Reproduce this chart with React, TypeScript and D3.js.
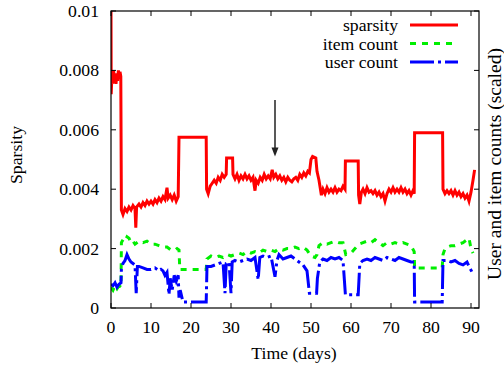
import * as d3 from 'd3'

// values in units of 1e-3, [day, value]
const sparsity: [number, number][] = [
  [0, 10.0], [0.05, 7.2], [0.25, 7.9], [0.45, 7.55], [0.65, 8.0], [0.85, 7.65], [1.05, 7.9],
  [1.25, 7.55], [1.45, 7.85], [1.65, 7.65], [1.85, 8.0], [2.05, 7.75], [2.25, 7.95], [2.45, 7.8],
  [2.6, 3.3], [3.0, 3.15], [3.5, 3.35], [4.0, 3.25], [4.5, 3.4], [5.0, 3.3], [5.5, 3.45],
  [6.0, 3.35], [6.2, 2.7], [6.4, 3.4], [7.0, 3.5], [7.5, 3.4], [8.0, 3.55], [8.5, 3.45],
  [9.0, 3.6], [9.5, 3.5], [10.0, 3.6], [10.5, 3.5], [11.0, 3.65], [11.5, 3.55], [12.0, 3.7],
  [12.5, 3.6], [13.0, 3.75], [13.5, 3.65], [14.0, 4.05], [14.3, 3.7], [14.8, 3.8], [15.3, 3.65],
  [15.8, 3.8], [16.3, 3.6], [16.8, 3.75], [17.0, 5.75], [23.8, 5.75], [23.9, 4.0], [24.3, 3.85],
  [24.8, 4.1], [25.3, 4.2], [25.8, 4.3], [26.3, 4.2], [26.8, 4.4], [27.3, 4.3], [27.8, 4.5],
  [28.3, 4.4], [28.8, 4.5], [28.9, 5.05], [30.4, 5.05], [30.5, 4.5], [31.0, 4.35], [31.5, 4.5],
  [32.0, 4.3], [32.5, 4.45], [33.0, 4.35], [33.5, 4.5], [34.0, 4.35], [34.5, 4.45], [35.0, 4.3],
  [35.5, 4.4], [36.0, 3.95], [36.3, 4.3], [36.8, 4.2], [37.3, 4.4], [37.8, 4.3], [38.3, 4.5],
  [38.8, 4.35], [39.3, 4.45], [39.8, 4.35], [40.3, 4.65], [40.7, 4.4], [41.2, 4.5], [41.7, 4.35],
  [42.2, 4.45], [42.7, 4.3], [43.2, 4.4], [43.7, 4.25], [44.2, 4.4], [44.7, 4.3], [45.2, 4.25],
  [45.7, 4.35], [46.2, 4.4], [46.7, 4.3], [47.2, 4.5], [47.7, 4.4], [48.2, 4.55], [48.7, 4.45],
  [49.2, 4.6], [49.6, 4.55], [50.0, 5.0], [50.4, 5.1], [51.2, 5.05], [51.5, 4.6], [52.0, 4.3],
  [52.6, 3.8], [53.0, 4.0], [53.5, 3.85], [54.0, 4.05], [54.5, 3.9], [55.0, 4.0], [55.5, 3.9],
  [56.0, 4.05], [56.5, 3.9], [57.0, 4.0], [57.5, 3.95], [58.0, 4.1], [58.5, 4.0], [58.6, 4.95],
  [61.8, 4.95], [61.9, 3.8], [62.2, 3.5], [62.6, 3.9], [63.0, 4.0], [63.5, 3.85], [64.0, 4.05],
  [64.5, 3.9], [65.0, 3.95], [65.5, 3.85], [66.0, 3.95], [66.5, 3.8], [67.0, 3.9], [67.5, 3.75],
  [68.0, 3.85], [68.5, 3.6], [69.0, 3.85], [69.5, 4.0], [70.0, 3.9], [70.5, 4.05], [71.0, 3.9],
  [71.5, 4.0], [72.0, 3.9], [72.5, 4.05], [73.0, 3.9], [73.5, 4.0], [74.0, 3.85], [74.5, 3.95],
  [75.0, 3.8], [75.5, 3.95], [75.8, 3.85], [75.9, 5.9], [82.9, 5.9], [83.0, 4.0], [83.5, 3.85],
  [84.0, 3.95], [84.5, 3.85], [85.0, 3.95], [85.5, 3.8], [86.0, 3.95], [86.5, 3.8], [87.0, 3.9],
  [87.5, 3.75], [88.0, 3.85], [88.5, 3.7], [89.0, 3.8], [89.5, 3.6], [90.0, 3.9], [90.5, 4.3],
  [90.9, 4.65],
]

const itemCount: [number, number][] = [
  [0, 0.7], [0.5, 0.6], [1, 0.75], [1.5, 0.65], [2, 0.75], [2.5, 0.7], [2.6, 2.2], [3, 2.3],
  [3.5, 2.25], [4, 2.4], [4.5, 2.35], [5, 2.2], [5.5, 2.25], [6, 2.15], [7, 2.25], [8, 2.2],
  [9, 2.25], [10, 2.15], [11, 2.15], [12, 2.1], [13, 2.05], [14, 2.05], [15, 1.95], [16, 1.95],
  [16.5, 2.0], [17, 1.95], [17.2, 1.3], [23.8, 1.3], [24, 1.65], [25, 1.75], [26, 1.7],
  [27, 1.75], [28, 1.7], [29, 1.8], [30, 1.75], [31, 1.8], [32, 1.85], [33, 1.8], [34, 1.9],
  [35, 1.85], [36, 1.9], [37, 1.85], [38, 1.95], [39, 1.9], [40, 1.95], [41, 1.9], [42, 2.0],
  [43, 1.95], [44, 2.0], [45, 2.0], [46, 2.05], [47, 2.0], [48, 2.05], [49, 1.95], [50, 1.75],
  [51, 1.7], [51.5, 1.8], [52, 2.1], [53, 2.2], [54, 2.15], [55, 2.2], [56, 2.25], [57, 2.2],
  [58, 2.2], [58.7, 1.8], [60, 1.85], [61, 2.0], [62, 2.15], [63, 2.2], [64, 2.25], [65, 2.2],
  [66, 2.3], [67, 2.2], [68, 2.1], [69, 2.2], [70, 2.15], [71, 2.2], [72, 2.15], [73, 2.2],
  [74, 2.15], [75, 2.1], [75.8, 1.9], [75.9, 1.35], [82.8, 1.35], [83, 1.8], [83.5, 2.0],
  [84, 2.05], [85, 2.1], [86, 2.1], [87, 2.15], [88, 2.2], [89, 2.3], [89.5, 2.35], [90, 2.0],
  [90.5, 1.85],
]

const userCount: [number, number][] = [
  [0, 0.8], [0.5, 0.75], [1, 0.85], [1.5, 0.7], [2, 0.8], [2.5, 0.85], [2.6, 1.3], [3, 1.5],
  [3.5, 1.6], [4, 1.8], [4.5, 1.65], [5, 1.55], [5.5, 1.5], [6, 1.45], [6.3, 0.5], [6.6, 1.4],
  [7, 1.4], [8, 1.35], [9, 1.3], [10, 1.3], [11, 1.35], [12, 1.25], [12.5, 1.3], [13, 1.25],
  [13.5, 1.1], [14, 1.2], [14.5, 0.45], [14.8, 1.0], [15.3, 0.6], [15.8, 1.1], [16.3, 0.9],
  [16.8, 1.1], [17, 0.35], [17.3, 0.6], [18, 0.2], [23.8, 0.2], [24, 1.4], [25, 1.4],
  [26, 1.45], [27, 1.5], [28, 1.55], [28.5, 0.5], [28.8, 1.5], [29.5, 1.55], [30, 0.5],
  [30.3, 1.55], [31, 1.6], [32, 1.55], [33, 1.6], [34, 1.65], [35, 1.6], [36, 1.7], [36.8, 0.95],
  [37.2, 1.7], [38, 1.75], [39, 1.7], [40, 1.75], [41, 1.05], [41.5, 1.6], [42, 1.8], [43, 1.65],
  [44, 1.7], [45, 1.75], [46, 1.65], [47, 1.55], [48, 1.45], [49, 1.25], [49.6, 0.5], [51.4, 0.5],
  [51.6, 1.0], [52.2, 1.55], [53, 1.65], [54, 1.6], [55, 1.7], [56, 1.65], [57, 1.7], [58, 1.6],
  [58.6, 0.45], [61.8, 0.45], [62.2, 1.5], [63, 1.6], [64, 1.65], [65, 1.6], [66, 1.7],
  [67, 1.65], [68, 1.6], [69, 1.7], [70, 1.65], [71, 1.6], [72, 1.7], [73, 1.65], [74, 1.6],
  [75, 1.55], [75.8, 1.55], [75.9, 0.2], [82.8, 0.2], [83, 1.6], [84, 1.6], [85, 1.55],
  [86, 1.6], [87, 1.5], [88, 1.45], [89, 1.55], [89.5, 1.4], [90.5, 1.15],
]

const xTicks = [0, 10, 20, 30, 40, 50, 60, 70, 80, 90]
const yTicks = [0, 2, 4, 6, 8, 10]
const yTickLabels = ['0', '0.002', '0.004', '0.006', '0.008', '0.01']

const series = [
  { name: 'sparsity', data: sparsity, color: '#ff0000', dash: '' },
  { name: 'item count', data: itemCount, color: '#00ee00', dash: '6,6' },
  { name: 'user count', data: userCount, color: '#0000ff', dash: '24,4,3,4' },
]

// arrow marking day 41
const arrow = { day: 41, from: 7.0, to: 5.1 }

const W = 504
const H = 367
const left = 111
const right = 479
const top = 11
const bottom = 308
const fs = 17.7

export default function App() {
  const x = d3.scaleLinear().domain([0, 92]).range([left, right])
  const y = d3.scaleLinear().domain([0, 10]).range([bottom, top])
  const line = d3
    .line<[number, number]>()
    .x((d) => x(d[0]))
    .y((d) => y(d[1]))

  const ax = x(arrow.day)
  const ay0 = y(arrow.from)
  const ay1 = y(arrow.to)

  return (
    <svg width={W} height={H} style={{ position: 'absolute', left: 0, top: 0, background: '#fff' }}>
      <defs>
        <clipPath id="plot">
          <rect x={left} y={top} width={right - left} height={bottom - top} />
        </clipPath>
      </defs>

      {/* series */}
      <g clipPath="url(#plot)">
        {series.map((s) => (
          <path
            key={s.name}
            d={line(s.data) || ''}
            fill="none"
            stroke={s.color}
            strokeWidth={3}
            strokeDasharray={s.dash || undefined}
            strokeLinejoin="miter"
          />
        ))}
      </g>

      {/* frame */}
      <rect x={left} y={top} width={right - left} height={bottom - top} fill="none" stroke="#000" strokeWidth={1.2} />

      <g fontFamily="Liberation Serif" fontSize={fs} fill="#000">
        {/* x ticks */}
        {xTicks.map((t) => (
          <g key={'x' + t}>
            <line x1={x(t)} x2={x(t)} y1={bottom} y2={bottom - 5} stroke="#000" />
            <line x1={x(t)} x2={x(t)} y1={top} y2={top + 5} stroke="#000" />
            <text x={x(t)} y={bottom + 25} textAnchor="middle">
              {t}
            </text>
          </g>
        ))}

        {/* y ticks */}
        {yTicks.map((t, i) => (
          <g key={'y' + t}>
            <line x1={left} x2={left + 5} y1={y(t)} y2={y(t)} stroke="#000" />
            <line x1={right} x2={right - 5} y1={y(t)} y2={y(t)} stroke="#000" />
            <text x={99} y={y(t) + 6} textAnchor="end">
              {yTickLabels[i]}
            </text>
          </g>
        ))}

        {/* legend */}
        {series.map((s, i) => (
          <g key={'lg' + s.name}>
            <text x={398} y={31 + i * 18.5} textAnchor="end">
              {s.name}
            </text>
            <line
              x1={410}
              x2={458}
              y1={25 + i * 18.5}
              y2={25 + i * 18.5}
              stroke={s.color}
              strokeWidth={3}
              strokeDasharray={s.dash || undefined}
            />
          </g>
        ))}

        {/* axis labels */}
        <text x={294} y={359} textAnchor="middle">
          Time (days)
        </text>
        <text transform="translate(16,155) rotate(-90)" textAnchor="middle" dy="0.35em">
          Sparsity
        </text>
        <text transform="translate(494,164) rotate(-90)" textAnchor="middle" dy="0.35em" fontSize={19.5}>
          User and item counts (scaled)
        </text>
      </g>

      {/* arrow */}
      <line x1={ax} x2={ax} y1={ay0} y2={ay1 - 6} stroke="#222" strokeWidth={1.5} />
      <path d={`M${ax - 3.5},${ay1 - 9} L${ax + 3.5},${ay1 - 9} L${ax},${ay1} Z`} fill="#222" />
    </svg>
  )
}
